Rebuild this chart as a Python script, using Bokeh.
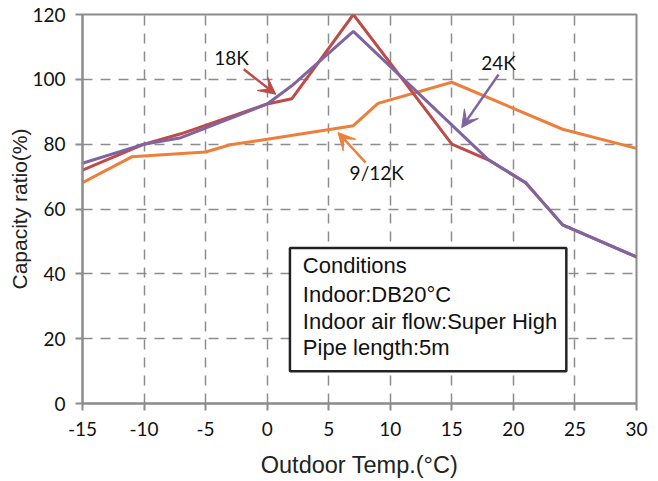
from bokeh.plotting import figure
from bokeh.models import Range1d, FixedTicker, Arrow, VeeHead, Label, BoxAnnotation
from bokeh.embed import file_html
from bokeh.resources import INLINE

# ---- data ----
x_red = [-15, -10, -7, 0, 2, 7, 15, 18, 21, 24, 30]
y_red = [72, 80, 83.2, 92.4, 94, 120, 80, 75.1, 68.1, 55.1, 45.2]

x_purple = [-15, -10, -7, 0, 2, 7, 18, 21, 24, 30]
y_purple = [74.1, 80, 82, 92.4, 98, 114.8, 75.1, 68.1, 55.1, 45.2]

x_orange = [-15, -11, -5, -3, 0, 7, 9, 15, 24, 30]
y_orange = [68.1, 76.1, 77.6, 79.8, 81.5, 85.7, 92.6, 99.1, 84.6, 78.7]

x_ticks = [-15, -10, -5, 0, 5, 10, 15, 20, 25, 30]
y_ticks = [0, 20, 40, 60, 80, 100, 120]

series_labels = ["18K", "24K", "9/12K"]
label_xy = [(-2.9, 106.6), (18.8, 105.3), (8.9, 71.3)]
arrow_start = [(-1.9, 103.1), (18.8, 101.5), (8.0, 74.3)]
arrow_end = [(0.7, 95.4), (15.8, 85.1), (5.75, 83.6)]

cond_lines = ["Conditions", "Indoor:DB20°C", "Indoor air flow:Super High", "Pipe length:5m"]

RED = "#BE4B48"
PURPLE = "#8064A2"
ORANGE = "#EE7F3B"
GRAY = "#8c8c8c"

p = figure(width=650, height=480, output_backend="svg", toolbar_location=None,
           x_range=Range1d(-15, 30), y_range=Range1d(0, 120),
           min_border_left=82, min_border_right=14, min_border_top=14, min_border_bottom=70)

p.outline_line_color = GRAY
p.outline_line_width = 2

for ax in (p.xaxis[0], p.yaxis[0]):
    ax.axis_line_color = GRAY
    ax.axis_line_width = 2
    ax.major_tick_line_color = GRAY
    ax.major_tick_line_width = 2
    ax.major_tick_out = 7
    ax.major_tick_in = 0
    ax.minor_tick_line_color = None
    ax.major_label_text_font = "Lato"
    ax.major_label_text_font_size = "19px"
    ax.major_label_text_color = "#111111"
    ax.axis_label_text_font = "Liberation Sans"
    ax.axis_label_text_font_style = "normal"
    ax.axis_label_text_color = "#222222"

p.xaxis[0].axis_label_text_font_size = "23.5px"
p.yaxis[0].axis_label_text_font_size = "21px"
p.xaxis[0].ticker = FixedTicker(ticks=x_ticks)
p.yaxis[0].ticker = FixedTicker(ticks=y_ticks)
p.xaxis[0].major_label_overrides = {t: str(t) for t in x_ticks}
p.yaxis[0].major_label_overrides = {t: str(t) for t in y_ticks}
p.xaxis[0].major_label_standoff = 11
p.yaxis[0].major_label_standoff = 10
p.xaxis[0].axis_label = "Outdoor Temp.(°C)"
p.yaxis[0].axis_label = "Capacity ratio(%)"
p.xaxis[0].axis_label_standoff = 13
p.yaxis[0].axis_label_standoff = -2

for g in (p.xgrid[0], p.ygrid[0]):
    g.grid_line_color = GRAY
    g.grid_line_width = 1.5
    g.grid_line_dash = "10 8"

p.line(x_orange, y_orange, line_color=ORANGE, line_width=3)
p.line(x_red, y_red, line_color=RED, line_width=3)
p.line(x_purple, y_purple, line_color=PURPLE, line_width=3)

arrow_colors = [RED, PURPLE, ORANGE]
for name, (lx, ly), (sx, sy), (ex, ey), c in zip(series_labels, label_xy, arrow_start, arrow_end, arrow_colors):
    p.add_layout(Label(x=lx, y=ly, text=name, text_font="Lato", text_font_size="19px",
                       text_align="center", text_baseline="middle", text_color="#111111"))
    p.add_layout(Arrow(x_start=sx, y_start=sy, x_end=ex, y_end=ey, line_color=c, line_width=2.5,
                       end=VeeHead(size=17, fill_color=c, line_color=c)))

p.add_layout(BoxAnnotation(left=1.85, right=24.3, bottom=9.95, top=48.0,
                           fill_color="white", fill_alpha=1.0, line_color="#222222",
                           line_alpha=1.0, line_width=2.5))
cond_y = [42.5, 33.6, 25.3, 17.2]
for t, yy in zip(cond_lines, cond_y):
    p.add_layout(Label(x=2.9, y=yy, text=t, text_font="Liberation Sans", text_font_size="22px",
                       text_align="left", text_baseline="middle", text_color="#111111"))

open("out.html", "w").write(file_html(p, INLINE))
